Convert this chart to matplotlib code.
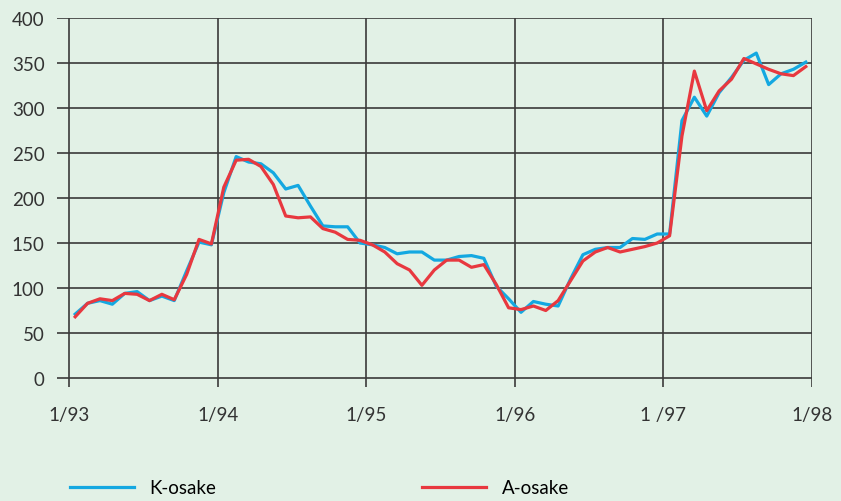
import numpy as np
import matplotlib
matplotlib.use("Agg")
import matplotlib.pyplot as plt

# kuukausittaiset indeksiarvot 1/93 - 12/97
k_osake = [71, 83, 86, 82, 94, 96, 86, 91, 86, 119, 151, 148,
           206, 246, 240, 238, 228, 210, 214, 191, 169, 168, 168, 150,
           148, 145, 138, 140, 140, 131, 131, 135, 136, 133, 102, 88,
           73, 85, 82, 80, 110, 137, 143, 145, 145, 155, 154, 160,
           160, 286, 312, 291, 317, 334, 353, 361, 326, 338, 343, 351]
a_osake = [68, 83, 88, 86, 94, 93, 86, 93, 87, 115, 154, 149,
           212, 242, 243, 235, 215, 180, 178, 179, 166, 162, 154, 153,
           148, 140, 127, 120, 103, 120, 131, 131, 123, 126, 104, 78,
           76, 80, 75, 86, 108, 130, 140, 145, 140, 143, 146, 150,
           158, 269, 341, 297, 319, 332, 355, 349, 343, 338, 336, 346]
year_labels = ["1/93", "1/94", "1/95", "1/96", "1 /97", "1/98"]
y_ticks = [0, 50, 100, 150, 200, 250, 300, 350, 400]

bg = "#e2f1e6"
blue = "#14a8e1"
red = "#e8383f"
grid_col = "#3a3a3a"

plt.rcParams['font.family'] = ['Lato', 'DejaVu Sans']

fig = plt.figure(figsize=(8.41, 5.02), dpi=100, facecolor=bg)
ax = fig.add_axes([57/841, 1 - 388/502, (812 - 57)/841, (388 - 19)/502])
ax.set_facecolor(bg)

x = np.arange(len(k_osake)) + 0.5
year_pos = np.arange(len(year_labels)) * 12

for yv in y_ticks:
    ax.axhline(yv, color=grid_col, lw=1.2, zorder=1)
for xv in year_pos:
    ax.axvline(xv, color=grid_col, lw=1.2, zorder=1)

ax.plot(x, k_osake, color=blue, lw=2.3, label="K-osake", zorder=3)
ax.plot(x, a_osake, color=red, lw=2.3, label="A-osake", zorder=4)

ax.set_xlim(-12/12.383, 60)
ax.set_ylim(-10, 400)
ax.set_xticks(year_pos)
ax.set_xticklabels(year_labels, fontsize=13.5, color="#333333")
ax.set_yticks(y_ticks)
ax.set_yticklabels([str(v) for v in y_ticks], fontsize=13.5, color="#333333")
ax.tick_params(length=0)
ax.tick_params(axis='x', pad=14)
ax.tick_params(axis='y', pad=9)
for s in ax.spines.values():
    s.set_visible(False)

fig.legend(loc='center left', bbox_to_anchor=(70/841, 13/502), ncol=2,
           frameon=False, fontsize=13.5, handlelength=3.4, handletextpad=0.85,
           columnspacing=10.95, borderpad=0, borderaxespad=0)

fig.savefig("out.png", dpi=100, facecolor=bg)
